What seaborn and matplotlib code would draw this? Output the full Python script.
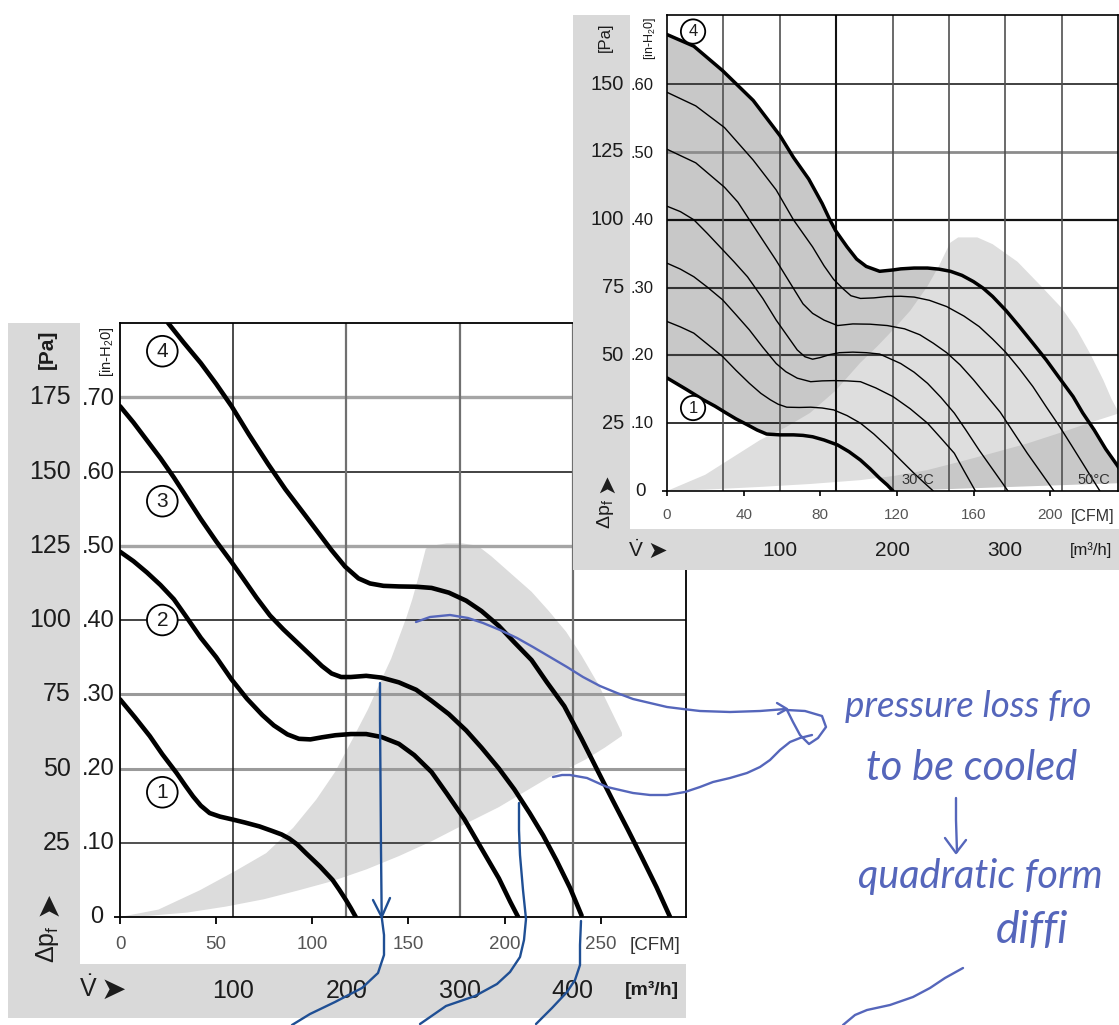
import matplotlib
matplotlib.use("Agg")
import matplotlib.pyplot as plt
from matplotlib.patches import Rectangle
import numpy as np
import seaborn as sns

sns.set_theme(style="white")
plt.rcParams["font.family"] = ["Liberation Sans", "DejaVu Sans"]
plt.rcParams["mathtext.fontset"] = "custom"
plt.rcParams["mathtext.rm"] = "Liberation Sans"
plt.rcParams["mathtext.it"] = "Liberation Sans:italic"

W, H = 1119, 1025
M3H = 0.588578      # CFM per m3/h
INH2O = 249.09      # Pa per inch of water

# ---------------- big chart: fan curves 1-4 (CFM, Pa) ----------------
big1_cfm = [0, 7.8, 15.5, 22, 29.4, 34, 38, 42, 46.6, 52, 58.7, 65, 72.5, 79, 84, 88, 92, 96.7, 104, 110.5, 114, 117.5, 120, 122.6]
big1_pa = [73.3, 67.2, 60.9, 54.8, 48.5, 44.2, 40.6, 37.5, 35, 33.8, 32.8, 31.8, 30.5, 29, 27.8, 26.4, 24.5, 21.5, 17, 12.5, 9.2, 5.7, 3, 0]

big2_cfm = [0, 7, 14, 21, 28, 34, 42, 50, 58, 66, 74, 80, 87, 93, 99, 105, 112, 120, 128, 136, 145, 153, 162, 170, 179, 188, 197, 203, 207]
big2_pa = [123, 119.8, 116, 111.8, 107, 101.5, 94, 87.5, 80, 73.5, 68, 64.5, 61.5, 60, 59.8, 60.5, 61.2, 61.6, 61.6, 60.6, 58.3, 54.5, 48.8, 41.5, 33, 23, 13, 5, 0]

big3_cfm = [0, 7, 14, 21, 28, 35, 42, 50, 58, 64, 71, 78, 85, 92, 99, 105, 110, 115, 120, 128, 136, 145, 154, 162, 171, 180, 188, 197, 205, 213, 220, 227, 234, 240]
big3_pa = [172, 166.5, 160.5, 154.5, 148, 141, 134, 126.5, 119.5, 114, 107.5, 101.5, 96.8, 92.5, 88.2, 84.5, 82, 80.8, 80.8, 81.2, 80.6, 79, 76.5, 72.8, 68.3, 62.8, 57, 50, 43, 35, 27.5, 19, 9.8, 0.5]

big4_cfm = [25, 33, 42, 50, 58, 67, 77, 86, 96, 103, 110, 117, 124, 130, 137, 145, 154, 162, 171, 180, 188, 197, 205, 214, 222, 231, 240, 248, 256, 264, 271, 279, 286]
big4_pa = [200, 193.5, 186.5, 179.5, 172, 162.5, 152.5, 144, 135.5, 129.5, 123.5, 118, 114, 112.3, 111.5, 111.3, 111.2, 110.8, 109.2, 106.5, 103, 98, 92.5, 86.5, 79, 71, 60, 49.7, 39.5, 29.5, 20.5, 10, 0]

# system resistance area (light grey)
big_fin_top_cfm = [0, 20, 41.5, 60, 76, 90, 102, 112, 121, 129, 136, 141, 145, 149, 152, 155, 157, 159, 162, 170, 178, 186, 193, 200, 207, 214, 223, 232, 240, 249, 255, 261]
big_fin_top_pa = [0, 2.5, 9, 15.5, 21.5, 30, 39.5, 49, 60, 70, 80, 87, 94, 101, 107, 114, 119, 124, 125, 125.8, 125.8, 125, 121.5, 117.5, 113.5, 109.5, 103, 96, 88, 78, 70, 62]
big_fin_bot_cfm = [0, 15, 35, 55, 75, 93, 110, 128, 145, 162, 180, 197, 210, 223, 233, 242, 252, 261]
big_fin_bot_pa = [0, 0.4, 1.5, 3.5, 6, 9, 12, 16, 20.5, 25.5, 31.5, 37, 42, 47, 50, 53, 57, 61]

big_labels = ["1", "2", "3", "4"]
big_label_cfm = [22, 22, 22, 22]
big_label_pa = [42, 100, 140, 190.5]

big_pa_ticks = [25, 50, 75, 100, 125, 150, 175]
big_inh2o_ticks = [0.10, 0.20, 0.30, 0.40, 0.50, 0.60, 0.70]
big_cfm_ticks = [0, 50, 100, 150, 200, 250]
big_m3h_ticks = [100, 200, 300, 400]

# ---------------- small chart: speed range 30 C .. 50 C ----------------
tr4_cfm = [0, 14, 29, 45, 59, 66, 74, 81, 85, 88, 94, 99, 104, 111, 118, 122, 129, 136, 142, 148, 154, 160, 165, 170, 177, 184, 191, 198, 205, 212, 217, 223, 229, 235, 241]
tr4_pa = [168.3, 164, 155, 144, 131, 123, 115, 106, 100, 96, 90, 85.5, 82.8, 81, 81.5, 81.9, 82.2, 82.2, 81.8, 81, 79.5, 77.2, 74.8, 71.7, 66.5, 60.6, 54.5, 48.3, 41.5, 34.8, 28.8, 22.5, 15.5, 9.5, 3]

tra_cfm = [0, 15, 30, 45, 57, 66, 76, 82, 87, 92, 96, 101, 108, 115, 122, 129, 137, 146, 155, 163, 170, 177, 184, 191, 198, 205, 211, 217, 222, 226]
tra_pa = [147, 142, 134, 122, 111, 100, 90, 83, 78, 74.5, 72, 71, 71.2, 71.7, 71.8, 71.5, 70.3, 68, 64.5, 60.6, 56, 51, 45, 38.5, 31, 23.7, 17, 10.2, 4.5, 0]

trb_cfm = [0, 15, 30, 37, 43, 50, 57, 64, 71, 76, 82, 89, 97, 106, 115, 124, 132, 139, 146, 153, 160, 167, 174, 181, 188, 195, 202]
trb_pa = [126, 121, 112, 106.5, 100, 92.5, 85, 77, 69, 65.5, 63, 61, 61.6, 61.5, 61, 59.8, 57.6, 54.5, 51, 46.5, 41, 35, 29, 21.5, 14, 7, 0]

trc_cfm = [0, 7, 14, 21, 29, 35, 42, 50, 57, 63, 68, 72, 76, 80, 85, 90, 97, 104, 111, 122, 129, 136, 143, 150, 156, 163, 170, 178]
trc_pa = [105, 103, 100, 95, 89, 84.5, 79, 71, 63, 57, 52, 49.5, 48.6, 49.2, 50.3, 51, 51.2, 51, 50.5, 47, 43.8, 39.7, 34.5, 28.7, 22.5, 15, 8, 0]

trd_cfm = [0, 7, 14, 21, 29, 36, 43, 50, 57, 62, 68, 75, 81, 87, 94, 101, 109, 118, 127, 136, 143, 150, 155, 161]
trd_pa = [84, 81.8, 79, 75.2, 70.5, 65, 59.4, 53, 47, 44, 41.6, 40.3, 40.6, 40.7, 40.6, 40.3, 38, 34.8, 30.3, 25, 19.5, 13.9, 7.5, 0]

tre_cfm = [0, 7, 14, 21, 29, 36, 43, 49, 54, 58, 62.5, 69, 75, 81, 87, 94, 101, 108, 115, 122, 129, 134, 139]
tre_pa = [62.5, 60.5, 58.2, 54.2, 49.6, 44.5, 39.7, 36, 33.6, 32, 30.9, 30.8, 30.9, 30.6, 29.9, 27.8, 25, 21, 16.4, 11.4, 6.5, 3.2, 0]

tr1_cfm = [0, 10, 19, 25, 31, 36, 42, 47, 52, 59, 66, 71, 76, 82, 89, 95, 101, 106, 111, 115, 118]
tr1_pa = [41.7, 37.5, 33.6, 31.3, 28.7, 26.6, 24.4, 22.5, 21, 20.7, 20.7, 20.5, 20, 18.8, 17, 14.5, 11.4, 8.2, 4.7, 2.2, 0]

tr_fin_top_cfm = [0, 20, 48.6, 62, 74.7, 88, 100.8, 110, 118, 127, 135.8, 142, 147.8, 152, 162, 170, 183, 196, 206, 214, 221, 227.7, 232, 235.4]
tr_fin_top_pa = [0, 6, 18.8, 23.5, 28.8, 37, 47.2, 53.5, 59.4, 66.5, 75.3, 83, 91.5, 93.5, 93.5, 91, 84.5, 75, 67.5, 59.4, 50.5, 41, 34, 29.5]
tr_fin_bot_cfm = [0, 20, 48.6, 75, 100.8, 118, 135.8, 153, 170, 188, 205, 220, 235.4]
tr_fin_bot_pa = [0, 0.5, 1.5, 2.6, 4, 5.5, 7.7, 10.8, 14, 17.5, 21.4, 25, 28.5]

tr_labels = ["1", "4"]
tr_label_cfm = [13.6, 13.6]
tr_label_pa = [30.6, 169.4]

tr_pa_ticks = [25, 50, 75, 100, 125, 150]
tr_inh2o_ticks = [0.10, 0.20, 0.30, 0.40, 0.50, 0.60]
tr_cfm_ticks = [0, 40, 80, 120, 160, 200]
tr_m3h_ticks = [100, 200, 300]
tr_grid_m3h = [50, 100, 150, 200, 250, 300, 350]

GREY = "#d9d9d9"
INK = "#1c1c1c"
PEN = "#5566bb"
PEN_DARK = "#1f4f94"
ARROW = ["DejaVu Sans"]

LEFT_AX = (120, 323, 686, 917)
TR_AX = (667, 15, 1118, 491)


def box(x0, y0, x1, y1):
    return [x0 / W, 1 - y1 / H, (x1 - x0) / W, (y1 - y0) / H]


def fx(px, a):
    return (px - a[0]) / (a[2] - a[0])


def fy(py, a):
    return (a[3] - py) / (a[3] - a[1])


fig = plt.figure(figsize=(W / 100, H / 100), dpi=100)


def panel(outer, inner, z):
    x0, y0, x1, y1 = outer
    p = fig.add_axes(box(*outer), zorder=z)
    p.set_xlim(x0, x1)
    p.set_ylim(y1, y0)
    p.add_patch(Rectangle((x0, y0), x1 - x0, y1 - y0, color=GREY, lw=0))
    p.add_patch(Rectangle((inner[0], inner[1]), inner[2] - inner[0], inner[3] - inner[1], color="white", lw=0))
    p.axis("off")
    return p


def circled(ax, x, y, s, fs):
    ax.text(x, y, s, ha="center", va="center", fontsize=fs, color=INK, zorder=6,
            bbox=dict(boxstyle="circle,pad=0.28", fc="white", ec="black", lw=1.3))


def style_axes(ax, lw):
    for s in ax.spines.values():
        s.set_visible(True)
        s.set_color("black")
        s.set_linewidth(lw)
    ax.set_xlabel("")
    ax.set_ylabel("")


# ================= big chart =================
lp = panel((8, 323, 686, 1018), (80, 323, 686, 964), 0)
ax = fig.add_axes(box(*LEFT_AX), zorder=1)
ax.set_facecolor("white")

ax.fill(np.r_[big_fin_top_cfm, big_fin_bot_cfm[::-1]], np.r_[big_fin_top_pa, big_fin_bot_pa[::-1]],
        color="#dcdcdc", lw=0, zorder=1)

h_style = {25: ("#202020", 1.1), 50: ("#9a9a9a", 2.2), 75: ("#9a9a9a", 2.2), 100: ("#101010", 1.1),
           125: ("#a5a5a5", 2.4), 150: ("#101010", 1.1), 175: ("#a5a5a5", 2.4)}
for p in big_pa_ticks:
    c, w = h_style[p]
    ax.axhline(p, color=c, lw=w, zorder=2)
for m in big_m3h_ticks:
    ax.axvline(m * M3H, color="#1a1a1a" if m == 100 else "#707070", lw=1.1 if m == 100 else 1.6, zorder=2)

for cx, cy in [(big1_cfm, big1_pa), (big2_cfm, big2_pa), (big3_cfm, big3_pa), (big4_cfm, big4_pa)]:
    sns.lineplot(x=cx, y=cy, ax=ax, color="black", linewidth=3.3, sort=False, estimator=None, zorder=4)

for s, cx, cy in zip(big_labels, big_label_cfm, big_label_pa):
    circled(ax, cx, cy, s, 15)

ax.set_xlim(0, 500 * M3H)
ax.set_ylim(0, 200)
style_axes(ax, 1.3)
ax.set_xticks(big_cfm_ticks)
ax.set_xticklabels([str(v) for v in big_cfm_ticks])
ax.tick_params(axis="x", bottom=True, direction="out", length=5, width=1.3, color="black",
               labelsize=13.5, labelcolor="#555555", pad=9)
ax.set_yticks([0])
ax.set_yticklabels([""])
ax.tick_params(axis="y", left=True, direction="out", length=4, width=1.3, color="black")

ytr = ax.get_yaxis_transform()
xtr = ax.get_xaxis_transform()
for p in big_pa_ticks:
    ax.text(fx(71, LEFT_AX), p, str(p), transform=ytr, ha="right", va="center", fontsize=18, color=INK)
for h in big_inh2o_ticks:
    ax.text(fx(82, LEFT_AX), h * INH2O, f"{h:.2f}"[1:], transform=ytr, ha="left", va="center",
            fontsize=17, color=INK)
ax.text(fx(97, LEFT_AX), 0, "0", transform=ytr, ha="center", va="center", fontsize=17, color=INK)
for m in big_m3h_ticks:
    ax.text(m * M3H, fy(991, LEFT_AX), str(m), transform=xtr, ha="center", va="center", fontsize=18, color=INK)

lp.text(47, 349, "[Pa]", rotation=90, ha="center", va="center", fontsize=15, fontweight="bold", color=INK)
lp.text(107, 352, "[in-H$_2$0]", rotation=90, ha="center", va="center", fontsize=10.5, color=INK)
lp.text(48, 944, "Δp$_\\mathrm{f}$", rotation=90, ha="center", va="center", fontsize=18, color=INK)
lp.text(48, 903, "➤", rotation=90, ha="center", va="center", fontsize=22, color=INK, family=ARROW)
lp.text(88, 989, "$\\dot{\\mathrm{V}}$", ha="center", va="center", fontsize=18, color=INK)
lp.text(113, 990, "➤", ha="center", va="center", fontsize=22, color=INK, family=ARROW)
lp.text(655, 946, "[CFM]", ha="center", va="center", fontsize=13.5, color="#333333")
lp.text(652, 990, "[m³/h]", ha="center", va="center", fontsize=14, fontweight="bold", color=INK)

# ================= small chart =================
tp = panel((573, 15, 1119, 570), (630, 15, 1119, 529), 2)
bx = fig.add_axes(box(*TR_AX), zorder=3)
bx.set_facecolor("white")

bx.fill(np.r_[tr4_cfm, tr1_cfm[::-1]], np.r_[tr4_pa, tr1_pa[::-1]], color="#c8c8c8", lw=0, zorder=1)
bx.fill(np.r_[tr_fin_top_cfm, tr_fin_bot_cfm[::-1]], np.r_[tr_fin_top_pa, tr_fin_bot_pa[::-1]],
        color="#dedede", lw=0, zorder=1.5)

th_style = {25: ("#111111", 1.2), 50: ("#3a3a3a", 1.5), 75: ("#333333", 1.5), 100: ("#111111", 1.6),
            125: ("#8c8c8c", 2.0), 150: ("#333333", 1.3)}
for p in tr_pa_ticks:
    c, w = th_style[p]
    bx.axhline(p, color=c, lw=w, zorder=2)
for m in tr_grid_m3h:
    bx.axvline(m * M3H, color="#111111" if m == 150 else "#505050", lw=1.5 if m == 150 else 1.2, zorder=2)

for cx, cy in [(tra_cfm, tra_pa), (trb_cfm, trb_pa), (trc_cfm, trc_pa), (trd_cfm, trd_pa), (tre_cfm, tre_pa)]:
    sns.lineplot(x=cx, y=cy, ax=bx, color="black", linewidth=1.0, sort=False, estimator=None, zorder=4)
for cx, cy in [(tr4_cfm, tr4_pa), (tr1_cfm, tr1_pa)]:
    sns.lineplot(x=cx, y=cy, ax=bx, color="black", linewidth=2.5, sort=False, estimator=None, zorder=4)

for s, cx, cy in zip(tr_labels, tr_label_cfm, tr_label_pa):
    circled(bx, cx, cy, s, 12)
bx.text(131, 4.2, "30°C", ha="center", va="center", fontsize=10.5, color="#333333", zorder=5)
bx.text(223, 4.2, "50°C", ha="center", va="center", fontsize=10.5, color="#333333", zorder=5)

bx.set_xlim(0, 400 * M3H)
bx.set_ylim(0, 175.5)
style_axes(bx, 1.2)
bx.set_xticks(tr_cfm_ticks)
bx.set_xticklabels([str(v) for v in tr_cfm_ticks])
bx.tick_params(axis="x", bottom=True, direction="out", length=3.5, width=1.2, color="black",
               labelsize=11, labelcolor="#555555", pad=9)
bx.set_yticks([0])
bx.set_yticklabels([""])
bx.tick_params(axis="y", left=True, direction="out", length=3.5, width=1.2, color="black")

ytr2 = bx.get_yaxis_transform()
xtr2 = bx.get_xaxis_transform()
for p in tr_pa_ticks:
    bx.text(fx(624, TR_AX), p, str(p), transform=ytr2, ha="right", va="center", fontsize=14.5, color=INK)
for h in tr_inh2o_ticks:
    bx.text(fx(631, TR_AX), h * INH2O, f"{h:.2f}"[1:], transform=ytr2, ha="left", va="center",
            fontsize=12, color=INK)
bx.text(fx(641, TR_AX), 0, "0", transform=ytr2, ha="center", va="center", fontsize=13.5, color=INK)
for m in tr_m3h_ticks:
    bx.text(m * M3H, fy(550, TR_AX), str(m), transform=xtr2, ha="center", va="center", fontsize=15, color=INK)

tp.text(605, 37, "[Pa]", rotation=90, ha="center", va="center", fontsize=12, color=INK)
tp.text(650, 38, "[in-H$_2$0]", rotation=90, ha="center", va="center", fontsize=9, color=INK)
tp.text(606, 514, "Δp$_\\mathrm{f}$", rotation=90, ha="center", va="center", fontsize=14, color=INK)
tp.text(606, 483, "➤", rotation=90, ha="center", va="center", fontsize=17, color=INK, family=ARROW)
tp.text(636, 550, "$\\dot{\\mathrm{V}}$", ha="center", va="center", fontsize=15, color=INK)
tp.text(657, 551, "➤", ha="center", va="center", fontsize=17, color=INK, family=ARROW)
tp.text(1093, 516, "[CFM]", ha="center", va="center", fontsize=11.5, color="#333333")
tp.text(1091, 550, "[m³/h]", ha="center", va="center", fontsize=12, color=INK)

# ================= handwritten notes =================
nx = fig.add_axes([0, 0, 1, 1], zorder=10)
nx.set_xlim(0, W)
nx.set_ylim(H, 0)
nx.axis("off")

strokes_light = [
    [(416, 622), (430, 617), (450, 615), (468, 618), (483, 623), (500, 630), (517, 638), (533, 647),
     (550, 657), (567, 667), (583, 677), (600, 686), (617, 693), (633, 699), (650, 703), (667, 707),
     (683, 709), (700, 711), (730, 712), (760, 711), (786, 709)],
    [(777, 703), (787, 709), (778, 714)],
    [(787, 710), (805, 711), (822, 716), (826, 727), (818, 738), (809, 744), (800, 735), (793, 722), (787, 710)],
    [(553, 777), (562, 775), (570, 775), (587, 778), (607, 787), (633, 793), (650, 795), (667, 795),
     (685, 792), (700, 787), (713, 782), (730, 778), (747, 773), (760, 767), (770, 760), (780, 750),
     (790, 742), (800, 738), (812, 735)],
    [(956, 798), (956, 820), (957, 852)],
    [(945, 838), (956, 853), (966, 840)],
    [(963, 968), (945, 978), (930, 988), (913, 997), (890, 1005), (867, 1010), (855, 1015), (843, 1025)],
]
strokes_dark = [
    [(380, 683), (380, 720), (380.5, 780), (381, 850), (381.7, 917), (384, 935), (384, 955), (378, 973),
     (362, 988), (335, 1002), (310, 1014), (292, 1025)],
    [(373, 900), (381.7, 917), (390, 898)],
    [(519, 803), (519, 830), (520, 855), (523, 890), (526, 919), (524, 940), (520, 957), (510, 972),
     (497, 984), (475, 996), (446, 1006), (420, 1024)],
    [(581, 921), (580, 945), (580, 965), (575, 980), (567, 992), (552, 1008), (536, 1024)],
]
for st in strokes_light:
    xs, ys = zip(*st)
    nx.plot(xs, ys, color=PEN, lw=1.7, solid_capstyle="round", solid_joinstyle="round")
for st in strokes_dark:
    xs, ys = zip(*st)
    nx.plot(xs, ys, color=PEN_DARK, lw=1.7, solid_capstyle="round", solid_joinstyle="round")

hand = dict(color=PEN, fontstyle="italic", fontweight="normal", family=["Lato", "DejaVu Sans"],
            va="baseline", ha="left")
nx.text(845, 717, "pressure loss fro", fontsize=26.5, **hand)
nx.text(866, 780, "to be cooled", fontsize=30, **hand)
nx.text(858, 888, "quadratic form", fontsize=28.5, **hand)
nx.text(996, 943, "diffi", fontsize=32, **hand)

fig.savefig("out.png", dpi=100)
plt.close(fig)
